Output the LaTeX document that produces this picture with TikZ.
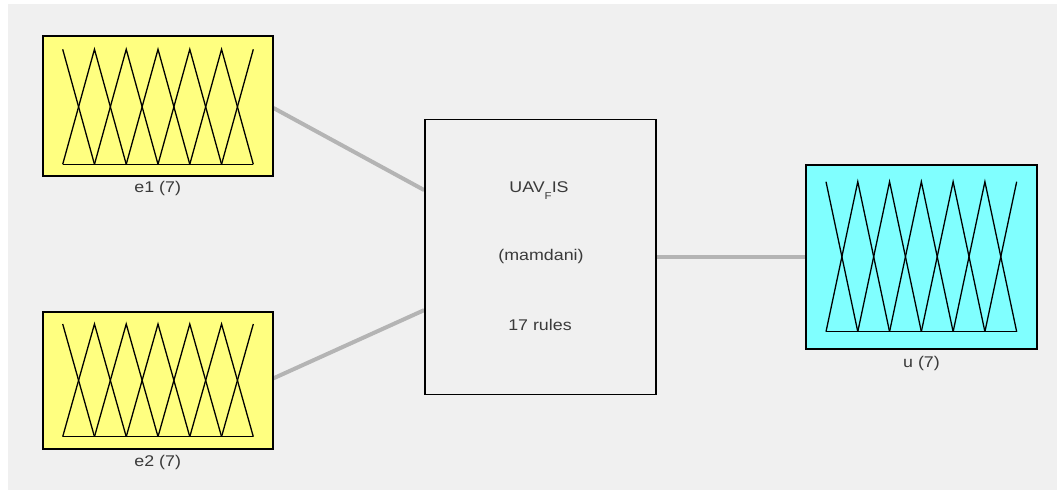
\documentclass[tikz,border=0pt]{standalone}
\usepackage{fontspec}
\setmainfont{Liberation Sans}
\usetikzlibrary{backgrounds}
\definecolor{bg}{HTML}{F0F0F0}
\definecolor{inyel}{HTML}{FFFF80}
\definecolor{outcyan}{HTML}{80FFFF}
\definecolor{conn}{HTML}{B4B4B4}
\definecolor{txt}{HTML}{3A3A3A}
\tikzset{
  mfbox/.style={draw=black, line width=1.6pt, inner sep=0pt},
  fisbox/.style={draw=black, line width=1.6pt, fill=bg, inner sep=0pt, minimum width=231pt, minimum height=275pt},
  mfline/.style={line width=1.3pt, black},
  connector/.style={conn, line width=4pt},
  lbl/.style={text=txt, font=\fontsize{15.5}{18}\selectfont, inner sep=0pt}
}
\newcommand{\wide}[1]{\scalebox{1.15}[1]{#1}}
\newcommand{\mfs}[4]{% x0, dx, top, base
  \draw[mfline] (#1,#3) -- ({#1+#2},#4);
  \foreach \k in {1,...,5}{
    \draw[mfline] ({#1+(\k-1)*#2},#4) -- ({#1+\k*#2},#3) -- ({#1+(\k+1)*#2},#4);
  }
  \draw[mfline] ({#1+5*#2},#4) -- ({#1+6*#2},#3);
  \draw[mfline] (#1,#4) -- ({#1+6*#2},#4);
}
\begin{document}
\begin{tikzpicture}[x={(1pt,0)}, y={(0,-1pt)}]
\useasboundingbox (0,0) rectangle (1057,490);
% boxes
\node[mfbox, fill=inyel, minimum width=230pt, minimum height=140pt] (e1) at (157.7,106) {};
\node[mfbox, fill=inyel, minimum width=230pt, minimum height=137pt] (e2) at (157.7,380.3) {};
\node[fisbox] (fis) at (540.5,256.8) {};
\node[mfbox, fill=outcyan, minimum width=231pt, minimum height=184pt] (u) at (921.2,256.8) {};
% background and connectors
\begin{pgfonlayer}{background}
  \fill[white] (0,0) rectangle (1057,490);
  \fill[bg] (8,4) rectangle (1057,490);
  \draw[connector] ([yshift=-2pt]e1.east) -- ([yshift=66.7pt]fis.west);
  \draw[connector] ([yshift=2pt]e2.east) -- ([yshift=-53.3pt]fis.west);
  \draw[connector] (fis.east) -- (u.west);
\end{pgfonlayer}
% membership functions
\mfs{62.7}{31.77}{49.3}{164.3}
\mfs{62.7}{31.77}{324}{436.7}
\mfs{826}{31.78}{181.7}{331.7}
% labels
\node[lbl] (e1lbl) at (157.7,188) {\wide{e1 (7)}};
\node[lbl] (e2lbl) at (157.7,462) {\wide{e2 (7)}};
\node[lbl] (ulbl) at (921.5,363) {\wide{u (7)}};
\node[lbl, anchor=base] (fisname) at (539,192.5) {\wide{UAV\raisebox{-6.5pt}{\fontsize{10}{11}\selectfont F}IS}};
\node[lbl] (fistype) at (541,256.7) {\wide{(mamdani)}};
\node[lbl] (fisrules) at (540,325) {\wide{17 rules}};
\end{tikzpicture}
\end{document}
